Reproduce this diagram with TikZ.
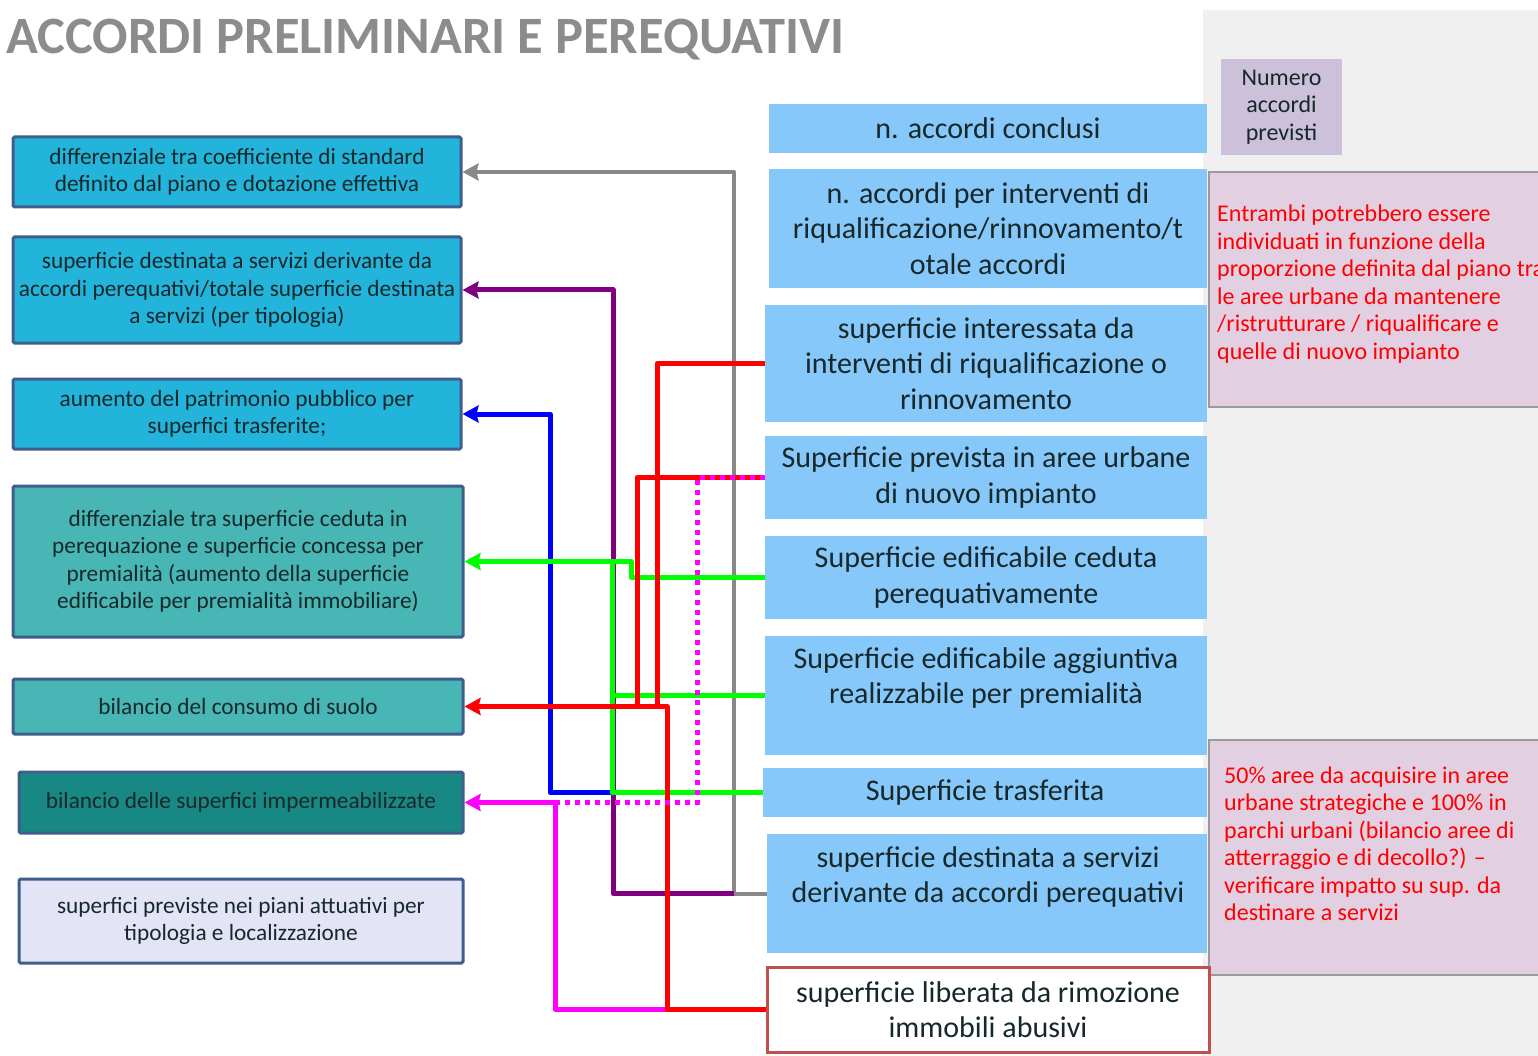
\documentclass[tikz,border=0pt]{standalone}
\usepackage{fontspec}
\setmainfont{Carlito}
\usetikzlibrary{arrows.meta}

\definecolor{titlegray}{HTML}{8C8C8C}
\definecolor{panelgray}{HTML}{F0F0F0}
\definecolor{cyanbox}{HTML}{23B4DB}
\definecolor{tealbox}{HTML}{47B6B5}
\definecolor{darkteal}{HTML}{178884}
\definecolor{lavbox}{HTML}{E4E4F7}
\definecolor{boxedge}{HTML}{3F5E8C}
\definecolor{skybox}{HTML}{86C8FA}
\definecolor{numbox}{HTML}{CCC0DA}
\definecolor{notebox}{HTML}{E2CFE1}
\definecolor{noteedge}{HTML}{9A9A9A}
\definecolor{abusedge}{HTML}{C0504D}
\definecolor{inktext}{HTML}{16282A}
\definecolor{cgray}{HTML}{888888}
\definecolor{cpurple}{HTML}{800080}
\definecolor{cblue}{HTML}{0000FF}
\definecolor{cgreen}{HTML}{00FF00}
\definecolor{cred}{HTML}{FF0000}
\definecolor{cmag}{HTML}{FF00FF}

\tikzset{
  leftbox/.style={draw=boxedge, line width=3pt, rounded corners=1.5pt, inner sep=1pt,
    align=center, text=inktext, font=\fontsize{23.3}{27.5}\selectfont},
  rightbox/.style={fill=skybox, inner sep=1pt, align=center, text=inktext,
    font=\fontsize{30}{35.5}\selectfont},
  boxtext/.style={inner sep=0pt, align=center, text=inktext, font=\fontsize{30}{35.5}\selectfont},
  notetext/.style={inner sep=0pt, align=left, text=cred, font=\fontsize{24}{27.5}\selectfont, anchor=west},
  conn/.style={line width=5pt, line join=round},
  tip/.style={-{Stealth[length=16pt,width=17pt,inset=2pt]}},
  dotm/.style={line width=5pt, cmag, dash pattern=on 5pt off 5pt}
}

\begin{document}
\begin{tikzpicture}[x=1pt,y=-1pt]
\useasboundingbox (0,0) rectangle (1538,1056);
\fill[white] (0,0) rectangle (1538,1056);

% side panel and notes
\fill[panelgray] (1203,10) rectangle (1538,1056);
\node[fill=numbox, minimum width=121pt, minimum height=96pt, inner sep=0pt,
  align=center, text=inktext, font=\fontsize{24}{27.5}\selectfont] (num) at (1281.5,107)
  {Numero\\accordi\\previsti};
\begin{scope}
\clip (0,0) rectangle (1538,1056);
\node[fill=notebox, draw=noteedge, line width=2pt, minimum width=334pt, minimum height=235pt,
  inner sep=0pt] (note1) at (1376,289.5) {};
\node[notetext] (note1t) at (1217,284) {Entrambi potrebbero essere\\individuati in funzione della\\proporzione definita dal piano tra\\le aree urbane da mantenere\\/ristrutturare / riqualificare e\\quelle di nuovo impianto};
\node[fill=notebox, draw=noteedge, line width=2pt, minimum width=334pt, minimum height=235pt,
  inner sep=0pt] (note2) at (1376,857.5) {};
\node[notetext] (note2t) at (1224,843.5) {50\% aree da acquisire in aree\\urbane strategiche e 100\% in\\parchi urbani (bilancio aree di\\atterraggio e di decollo?) --\\verificare impatto su sup. da\\destinare a servizi};
\end{scope}

% title
\node[anchor=west, inner sep=0pt, text=titlegray, font=\bfseries\fontsize{52.5}{56}\selectfont]
  (title) at (6,40) {ACCORDI PRELIMINARI E PEREQUATIVI};

% left column
\node[leftbox, fill=cyanbox, minimum width=448pt, minimum height=70pt] (L1) at (237,172)
  {differenziale tra coefficiente di standard\\definito dal piano e dotazione effettiva};
\node[leftbox, fill=cyanbox, minimum width=448pt, minimum height=106pt] (L2) at (237,290)
  {superficie destinata a servizi derivante da\\accordi perequativi/totale superficie destinata\\a servizi (per tipologia)};
\node[leftbox, fill=cyanbox, minimum width=448pt, minimum height=70pt] (L3) at (237,414)
  {aumento del patrimonio pubblico per\\superfici trasferite;};
\node[leftbox, fill=tealbox, minimum width=450pt, minimum height=151pt] (L4) at (238,561.5)
  {differenziale tra superficie ceduta in\\perequazione e superficie concessa per\\premialità (aumento della superficie\\edificabile per premialità immobiliare)};
\node[leftbox, fill=tealbox, minimum width=450pt, minimum height=55pt] (L5) at (238,706.5)
  {bilancio del consumo di suolo};
\node[leftbox, fill=darkteal, minimum width=444pt, minimum height=61pt] (L6) at (241,802.5)
  {bilancio delle superfici impermeabilizzate};
\node[leftbox, fill=lavbox, minimum width=444pt, minimum height=84pt] (L7) at (241,921)
  {superfici previste nei piani attuativi per\\tipologia e localizzazione};

% right column
\node[rightbox, minimum width=438pt, minimum height=49pt] (R1) at (988,128.5)
  {n. accordi conclusi};
\node[rightbox, minimum width=438pt, minimum height=119pt] (R2) at (988,228.5)
  {n. accordi per interventi di\\riqualificazione/rinnovamento/t\\otale accordi};
\node[rightbox, minimum width=442pt, minimum height=117pt] (R3) at (986,363.5)
  {superficie interessata da\\interventi di riqualificazione o\\rinnovamento};
\node[rightbox, minimum width=442pt, minimum height=83pt] (R4) at (986,477.5)
  {Superficie prevista in aree urbane\\di nuovo impianto};
\node[rightbox, minimum width=442pt, minimum height=83pt] (R5) at (986,577.5)
  {Superficie edificabile ceduta\\perequativamente};
\node[rightbox, minimum width=442pt, minimum height=119pt] (R6) at (986,695.5) {};
\node[boxtext] (R6t) at (986,678) {Superficie edificabile aggiuntiva\\realizzabile per premialità};
\node[rightbox, minimum width=444pt, minimum height=49pt] (R7) at (985,792.5)
  {Superficie trasferita};
\node[rightbox, minimum width=440pt, minimum height=119pt] (R8) at (987,893.5) {};
\node[boxtext] (R8t) at (988,877) {superficie destinata a servizi\\derivante da accordi perequativi};
\node[rightbox, fill=white, draw=abusedge, line width=3pt, minimum width=442pt, minimum height=85pt]
  (R9) at (988,1009.5) {superficie liberata da rimozione\\immobili abusivi};

% vertical runs of the connectors
\coordinate (xg) at (734,0);
\coordinate (xp) at (613,0);
\coordinate (xb) at (550,0);
\coordinate (xgr) at (612,0);
\coordinate (xgr2) at (631,0);
\coordinate (xr1) at (657,0);
\coordinate (xr2) at (637,0);
\coordinate (xr3) at (667,0);
\coordinate (xm) at (555,0);
\coordinate (xd) at (697,0);

% connectors
\draw[conn, line width=4pt, cgray, tip] (R8.west) -- (R8.west -| xg) |- (L1.east);
\draw[conn, cpurple, tip] (R8.west -| xg) -- (R8.west -| xp) |- (L2.east);
\draw[conn, cblue, tip] (R7.west) -- (R7.west -| xb) |- (L3.east);
\draw[conn, cmag, tip] (R9.west) -- (R9.west -| xm) |- (L6.east);
\draw[conn, cgreen, tip] (R7.west) -- (R7.west -| xgr) |- (L4.east);
\draw[conn, cgreen] (R5.west) -- (R5.west -| xgr2) -- (L4.east -| xgr2) -- (L4.east -| xgr);
\draw[conn, cgreen] (R6.west) -- (R6.west -| xgr);
\draw[conn, cred, tip] (R9.west) -- (R9.west -| xr3) |- (L5.east);
\draw[conn, cred] (R3.west) -- (R3.west -| xr1) -- (L5.east -| xr1);
\draw[conn, cred] (R4.west) -- (R4.west -| xr2) -- (L5.east -| xr2);
\draw[dotm] (R4.west) -- (R4.west -| xd) -- (L6.east -| xd) -- (L6.east -| xm);
\end{tikzpicture}
\end{document}
